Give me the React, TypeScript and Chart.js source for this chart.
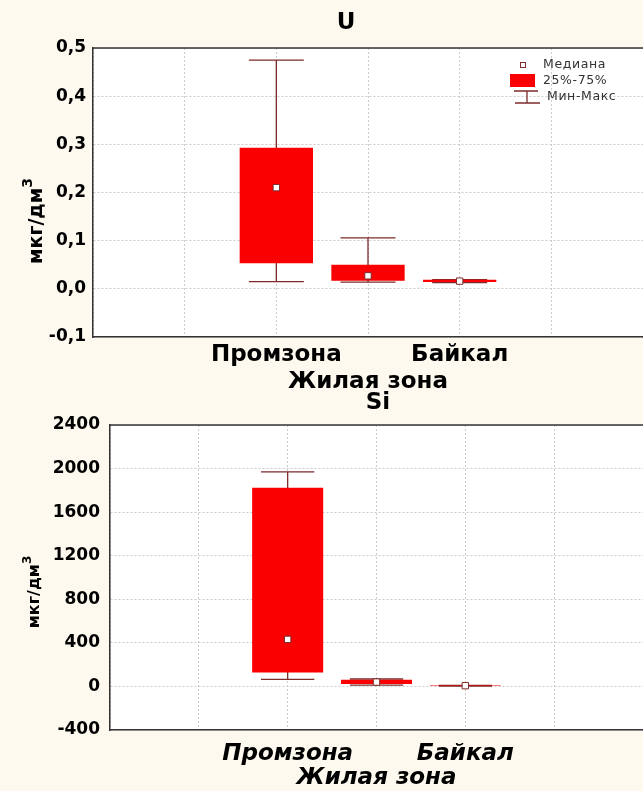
import React, { useEffect, useRef } from 'react';
import { Chart, registerables } from 'chart.js';

Chart.register(...registerables);

// ---------- data ----------
const categories = ['Промзона', 'Жилая зона', 'Байкал'];

const uMin = [0.015, 0.014, 0.013];
const uQ1 = [0.053, 0.017, 0.014];
const uMed = [0.21, 0.027, 0.016];
const uQ3 = [0.293, 0.05, 0.019];
const uMax = [0.475, 0.106, 0.019];
const uAxis = [-0.1, 0.5, 0.1];

const siMin = [65, 12, 3];
const siQ1 = [129, 22, 5];
const siMed = [432, 40, 7];
const siQ3 = [1823, 62, 9];
const siMax = [1970, 68, 10];
const siAxis = [-400, 2400, 400];

const yTitleMain = 'мкг/дм';
const yTitleSup = '3';
const legendLabels = ['Медиана', '25%-75%', 'Мин-Макс'];

// ---------- style ----------
const FONT = "'DejaVu Sans', 'Liberation Sans', sans-serif";
const CREAM = '#fdf9ef';
const RED = '#fa0000';
const WHISKER = '#7d2b2b';
const GRID = '#cccccc';
const AXIS = '#333333';
const SLOT_PAD = 2;

function padVals(arr: any[]) {
  const blanks = Array(SLOT_PAD).fill(null);
  return [...blanks, ...arr, ...blanks];
}
function padLabels() {
  const blanks = Array(SLOT_PAD).fill('');
  const mid = categories.map((c, i) => (i % 2 === 1 ? ['', c] : c));
  return [...blanks, ...mid, ...blanks];
}

type Spec = {
  title: string;
  titleX: number;
  titleY: number;
  mins: number[];
  q1: number[];
  med: number[];
  q3: number[];
  max: number[];
  axis: number[];
  decimals: number;
  axisWidth: number;
  axisHeight: number;
  padTop: number;
  tickPad: number;
  xFont: any;
  xPad: number;
  yTitleX: number;
  yTitleY: number;
  yTitleSize: number;
  legend: boolean;
};

function makePlugin(s: Spec) {
  return {
    id: 'boxExtras',
    beforeDraw(chart: any) {
      const { ctx, chartArea: a } = chart;
      ctx.save();
      ctx.fillStyle = '#ffffff';
      ctx.fillRect(a.left, a.top, a.right - a.left, a.bottom - a.top);
      ctx.restore();
    },
    beforeDatasetsDraw(chart: any) {
      const { ctx } = chart;
      const x = chart.scales.x;
      const y = chart.scales.y;
      const step = x.getPixelForValue(1) - x.getPixelForValue(0);
      const capHalf = step * 0.3;
      ctx.save();
      ctx.strokeStyle = WHISKER;
      ctx.lineWidth = 1.3;
      s.mins.forEach((mn, i) => {
        const px = x.getPixelForValue(i + SLOT_PAD);
        const y0 = y.getPixelForValue(mn);
        const y1 = y.getPixelForValue(s.max[i]);
        ctx.beginPath();
        ctx.moveTo(px, y0);
        ctx.lineTo(px, y1);
        ctx.moveTo(px - capHalf, y0);
        ctx.lineTo(px + capHalf, y0);
        ctx.moveTo(px - capHalf, y1);
        ctx.lineTo(px + capHalf, y1);
        ctx.stroke();
      });
      ctx.restore();
    },
    afterDraw(chart: any) {
      const { ctx, chartArea: a } = chart;
      ctx.save();
      // top border
      ctx.strokeStyle = AXIS;
      ctx.lineWidth = 1.5;
      ctx.beginPath();
      ctx.moveTo(a.left, a.top);
      ctx.lineTo(a.right, a.top);
      ctx.stroke();
      // title
      ctx.fillStyle = '#000';
      ctx.font = `bold 23px ${FONT}`;
      ctx.textAlign = 'center';
      ctx.textBaseline = 'middle';
      ctx.fillText(s.title, s.titleX, s.titleY);
      // y axis title
      ctx.save();
      ctx.translate(s.yTitleX, s.yTitleY);
      ctx.rotate(-Math.PI / 2);
      ctx.font = `bold ${s.yTitleSize}px ${FONT}`;
      const wMain = ctx.measureText(yTitleMain).width;
      const supSize = Math.round(s.yTitleSize * 0.75);
      ctx.font = `bold ${supSize}px ${FONT}`;
      const wSup = ctx.measureText(yTitleSup).width;
      const start = -(wMain + wSup) / 2;
      ctx.textAlign = 'left';
      ctx.textBaseline = 'alphabetic';
      ctx.font = `bold ${s.yTitleSize}px ${FONT}`;
      const base = s.yTitleSize * 0.36;
      ctx.fillText(yTitleMain, start, base);
      ctx.font = `bold ${supSize}px ${FONT}`;
      ctx.fillText(yTitleSup, start + wMain, base - s.yTitleSize * 0.5);
      ctx.restore();
      // legend
      if (s.legend) {
        const lx = a.right - 120;
        const ly = a.top;
        ctx.font = `12.5px ${FONT}`;
        (ctx as any).letterSpacing = '0.6px';
        ctx.textAlign = 'left';
        ctx.textBaseline = 'middle';
        // median marker
        ctx.fillStyle = '#fff';
        ctx.fillRect(lx - 2.5, ly + 14.5, 5, 5);
        ctx.strokeStyle = WHISKER;
        ctx.lineWidth = 1;
        ctx.strokeRect(lx - 2.5, ly + 14.5, 5, 5);
        ctx.fillStyle = '#333';
        ctx.fillText(legendLabels[0], lx + 20, ly + 17);
        // box
        ctx.fillStyle = RED;
        ctx.fillRect(lx - 13, ly + 26, 25, 13);
        ctx.fillStyle = '#333';
        ctx.fillText(legendLabels[1], lx + 20, ly + 33);
        // whisker
        ctx.strokeStyle = WHISKER;
        ctx.lineWidth = 1.3;
        ctx.beginPath();
        ctx.moveTo(lx + 4, ly + 43);
        ctx.lineTo(lx + 4, ly + 55);
        ctx.moveTo(lx - 9, ly + 43);
        ctx.lineTo(lx + 15, ly + 43);
        ctx.moveTo(lx - 8, ly + 55);
        ctx.lineTo(lx + 17, ly + 55);
        ctx.stroke();
        ctx.fillStyle = '#333';
        ctx.fillText(legendLabels[2], lx + 24, ly + 49);
        (ctx as any).letterSpacing = '0px';
      }
      ctx.restore();
    },
  };
}

function makeConfig(s: Spec): any {
  const [yMin, yMax, yStep] = s.axis;
  return {
    type: 'bar',
    data: {
      labels: padLabels(),
      datasets: [
        {
          type: 'line',
          label: legendLabels[0],
          data: padVals(s.med),
          showLine: false,
          pointStyle: 'rect',
          pointRadius: 4.5,
          pointHoverRadius: 4.5,
          pointBackgroundColor: '#ffffff',
          pointBorderColor: WHISKER,
          pointBorderWidth: 1,
          order: 0,
        },
        {
          type: 'bar',
          label: legendLabels[1],
          data: padVals(s.q1.map((v, i) => [v, s.q3[i]])),
          backgroundColor: RED,
          borderWidth: 0,
          categoryPercentage: 0.8,
          barPercentage: 1,
          order: 1,
        },
      ],
    },
    options: {
      animation: false,
      responsive: true,
      maintainAspectRatio: false,
      layout: { autoPadding: false, padding: { top: s.padTop, left: 0, right: 0, bottom: 0 } },
      plugins: {
        legend: { display: false },
        title: { display: false },
        tooltip: { enabled: false },
      },
      scales: {
        x: {
          type: 'category',
          offset: false,
          grid: { offset: false, color: GRID, lineWidth: 1, drawTicks: false },
          border: { display: true, color: AXIS, width: 1.5, dash: [2, 2] },
          ticks: {
            autoSkip: false,
            maxRotation: 0,
            minRotation: 0,
            color: '#000',
            padding: s.xPad,
            font: s.xFont,
          },
          afterFit: (scale: any) => {
            scale.height = s.axisHeight;
            scale.paddingRight = 0;
          },
        },
        y: {
          type: 'linear',
          min: yMin,
          max: yMax,
          grid: { color: GRID, lineWidth: 1, drawTicks: false },
          border: { display: true, color: AXIS, width: 1.5, dash: [2, 2] },
          ticks: {
            stepSize: yStep,
            color: '#000',
            padding: s.tickPad,
            font: { family: FONT, size: 17, weight: 'bold' },
            callback: (v: number) => {
              const r = Math.abs(v) < 1e-9 ? 0 : v;
              return r.toFixed(s.decimals).replace('.', ',');
            },
          },
          afterFit: (scale: any) => {
            scale.width = s.axisWidth;
          },
        },
      },
    },
    plugins: [makePlugin(s)],
  };
}

const uSpec: Spec = {
  title: 'U',
  titleX: 346,
  titleY: 23,
  mins: uMin,
  q1: uQ1,
  med: uMed,
  q3: uQ3,
  max: uMax,
  axis: uAxis,
  decimals: 1,
  axisWidth: 93,
  axisHeight: 58,
  padTop: 48,
  tickPad: 7,
  xFont: { family: FONT, size: 23, weight: 'bold', lineHeight: 1.2 },
  xPad: 4,
  yTitleX: 35,
  yTitleY: 221,
  yTitleSize: 19,
  legend: true,
};

const siSpec: Spec = {
  title: 'Si',
  titleX: 378,
  titleY: 15,
  mins: siMin,
  q1: siQ1,
  med: siMed,
  q3: siQ3,
  max: siMax,
  axis: siAxis,
  decimals: 0,
  axisWidth: 110,
  axisHeight: 61,
  padTop: 37,
  tickPad: 10,
  xFont: { family: FONT, size: 23, weight: 'bold', style: 'italic', lineHeight: 1.05 },
  xPad: 12,
  yTitleX: 33,
  yTitleY: 204,
  yTitleSize: 16,
  legend: false,
};

function Panel({ spec, top, height }: { spec: Spec; top: number; height: number }) {
  const ref = useRef<HTMLCanvasElement>(null);
  useEffect(() => {
    const chart = new Chart(ref.current as HTMLCanvasElement, makeConfig(spec));
    return () => chart.destroy();
  }, [spec]);
  return (
    <div style={{ position: 'absolute', left: 0, top, width: 643, height }}>
      <canvas ref={ref} />
    </div>
  );
}

export default function App() {
  return (
    <div
      style={{
        position: 'fixed',
        left: 0,
        top: 0,
        width: 643,
        height: 791,
        background: CREAM,
        overflow: 'hidden',
      }}
    >
      <Panel spec={uSpec} top={0} height={395} />
      <Panel spec={siSpec} top={388} height={403} />
    </div>
  );
}
